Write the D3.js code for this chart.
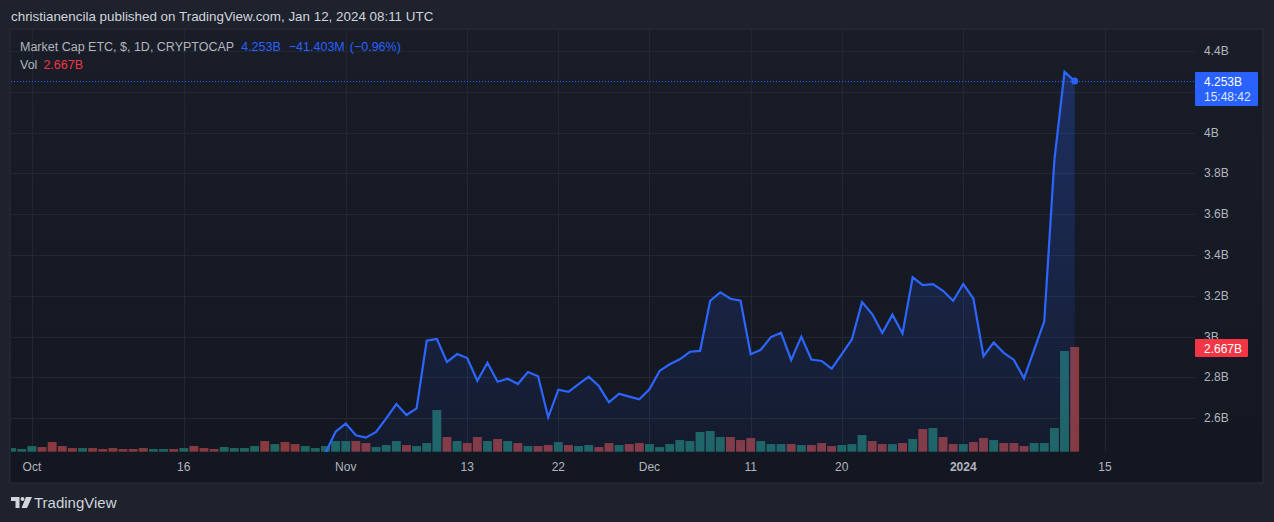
<!DOCTYPE html>
<html>
<head>
<meta charset="utf-8">
<script src="https://cdn.jsdelivr.net/npm/d3@7"></script>
<style>
  html, body { margin: 0; padding: 0; background: #1e222d; }
  svg { display: block; font-family: "Liberation Sans", Arial, sans-serif; }
</style>
</head>
<body>
<svg id="chart" width="1274" height="522"></svg>
<script>
// one bar per day, starting Sep 29 2023, last bar Jan 12 2024
var firstDay = "2023-09-29";

// market cap ETC, billions $ (close)
var marketCap = [
  2.22, 2.23,                                                       // Sep 29-30
  2.26, 2.21, 2.20, 2.21, 2.18, 2.19, 2.19, 2.18, 2.13, 2.12,       // Oct
  2.10, 2.08, 2.09, 2.10, 2.11, 2.17, 2.15, 2.13, 2.14, 2.21,
  2.26, 2.27, 2.35, 2.38, 2.40, 2.36, 2.34, 2.36, 2.38, 2.43, 2.534,
  2.574, 2.517, 2.505, 2.533, 2.600, 2.670, 2.616, 2.649, 2.980, 2.989, // Nov
  2.876, 2.915, 2.895, 2.784, 2.872, 2.779, 2.794, 2.768, 2.827, 2.806,
  2.605, 2.740, 2.730, 2.768, 2.804, 2.758, 2.678, 2.721, 2.706, 2.693,
  2.742, 2.832, 2.865, 2.889, 2.926, 2.930, 3.176, 3.217, 3.186, 3.176, // Dec
  2.914, 2.936, 2.998, 3.019, 2.886, 3.000, 2.888, 2.881, 2.843, 2.915,
  2.987, 3.170, 3.111, 3.018, 3.108, 3.016, 3.291, 3.253, 3.258, 3.225, 3.176,
  3.258, 3.186, 2.904, 2.972, 2.921, 2.886, 2.796, 2.935, 3.075, 3.866, // Jan
  4.298, 4.253
];

// volume, billions $
var volume = [
  0.093, 0.068,
  0.144, 0.119, 0.246, 0.144, 0.093, 0.093, 0.093, 0.068, 0.093, 0.068,
  0.068, 0.093, 0.068, 0.068, 0.068, 0.093, 0.144, 0.093, 0.068, 0.119,
  0.093, 0.093, 0.144, 0.272, 0.195, 0.246, 0.195, 0.144, 0.093, 0.144, 0.272,
  0.272, 0.272, 0.221, 0.119, 0.170, 0.272, 0.170, 0.144, 0.221, 1.061,
  0.374, 0.272, 0.221, 0.374, 0.272, 0.323, 0.272, 0.221, 0.144, 0.144,
  0.170, 0.246, 0.170, 0.144, 0.170, 0.119, 0.221, 0.170, 0.195, 0.221,
  0.195, 0.119, 0.195, 0.297, 0.272, 0.501, 0.526, 0.374, 0.374, 0.297,
  0.348, 0.272, 0.195, 0.195, 0.195, 0.170, 0.170, 0.221, 0.144, 0.170,
  0.195, 0.425, 0.272, 0.195, 0.195, 0.221, 0.323, 0.577, 0.603, 0.374, 0.195,
  0.195, 0.246, 0.348, 0.297, 0.221, 0.221, 0.144, 0.221, 0.221, 0.603,
  2.565, 2.667
];

// 1 = up bar (green), 0 = down bar (red)
var volumeUp = [
  1, 1,
  1, 0, 0, 0, 0, 1, 0, 0, 0, 0,
  0, 0, 1, 1, 0, 1, 0, 0, 0, 1,
  1, 1, 1, 0, 1, 0, 0, 1, 1, 1, 1,
  1, 0, 0, 1, 1, 1, 0, 1, 1, 1,
  0, 1, 0, 0, 1, 0, 1, 0, 1, 0,
  0, 1, 0, 1, 1, 0, 0, 1, 0, 0,
  1, 1, 1, 1, 1, 1, 1, 1, 0, 0,
  0, 1, 1, 1, 0, 1, 0, 0, 0, 1,
  1, 1, 0, 0, 1, 0, 1, 0, 1, 0, 0,
  1, 0, 0, 1, 0, 0, 0, 1, 1, 1,
  1, 0
];

var priceTicks = [2.6, 2.8, 3, 3.2, 3.4, 3.6, 3.8, 4, 4.2, 4.4];
var priceTickLabels = ["2.6B", "2.8B", "3B", "3.2B", "3.4B", "3.6B", "3.8B", "4B", "", "4.4B"];

var timeTicks = ["2023-10-01", "2023-10-16", "2023-11-01", "2023-11-13", "2023-11-22",
                 "2023-12-01", "2023-12-11", "2023-12-20", "2024-01-01", "2024-01-15"];
var timeTickLabels = ["Oct", "16", "Nov", "13", "22", "Dec", "11", "20", "2024", "15"];

var svg = d3.select("#chart");

// frame of the chart
var frame = { left: 10, top: 29, right: 1263, bottom: 483 };
var plot = { left: 11, top: 30, right: 1195, bottom: 452 };

var defs = svg.append("defs");

var bg = defs.append("linearGradient").attr("id", "bg")
  .attr("x1", 0).attr("y1", 0).attr("x2", 0).attr("y2", 1);
bg.append("stop").attr("offset", "0%").attr("stop-color", "#191d28");
bg.append("stop").attr("offset", "100%").attr("stop-color", "#131722");

var area = defs.append("linearGradient").attr("id", "areaFill")
  .attr("gradientUnits", "userSpaceOnUse")
  .attr("x1", 0).attr("y1", 51).attr("x2", 0).attr("y2", plot.bottom);
area.append("stop").attr("offset", "0%").attr("stop-color", "#2962ff").attr("stop-opacity", 0.28);
area.append("stop").attr("offset", "100%").attr("stop-color", "#2962ff").attr("stop-opacity", 0.05);

defs.append("clipPath").attr("id", "plotClip")
  .append("rect")
  .attr("x", plot.left).attr("y", plot.top)
  .attr("width", plot.right - plot.left).attr("height", plot.bottom - plot.top);

svg.append("rect")
  .attr("x", frame.left).attr("y", frame.top)
  .attr("width", frame.right - frame.left).attr("height", frame.bottom - frame.top)
  .attr("fill", "url(#bg)")
  .attr("stroke", "#2a2e39");

// scales
var start = new Date(firstDay + "T00:00:00Z");
var days = marketCap.map(function(d, i) { return d3.utcDay.offset(start, i); });

var x = d3.scaleUtc()
  .domain([new Date("2023-09-28T22:28:00Z"), new Date("2024-01-23T21:20:00Z")])
  .range([plot.left, plot.right]);

var y = d3.scaleLinear().domain([2.6, 4.4]).range([418.3, 51]);

// volume overlay uses its own scale at the bottom of the pane
var yVol = d3.scaleLinear().domain([0, 2.667]).range([451.7, 347]);

var step = x(days[1]) - x(days[0]);
var barW = step * 0.88;

// grid
var grid = svg.append("g").attr("stroke", "#232733").attr("stroke-width", 1);
grid.selectAll(".h").data(priceTicks).join("line")
  .attr("x1", plot.left).attr("x2", plot.right)
  .attr("y1", function(d) { return Math.round(y(d)) + 0.5; })
  .attr("y2", function(d) { return Math.round(y(d)) + 0.5; });
grid.selectAll(".v").data(timeTicks).join("line")
  .attr("x1", function(d) { return Math.round(x(new Date(d + "T00:00:00Z"))) + 0.5; })
  .attr("x2", function(d) { return Math.round(x(new Date(d + "T00:00:00Z"))) + 0.5; })
  .attr("y1", plot.top).attr("y2", plot.bottom);

var pane = svg.append("g").attr("clip-path", "url(#plotClip)");

// volume bars
pane.append("g").selectAll("rect").data(volume).join("rect")
  .attr("x", function(d, i) { return x(days[i]) - barW / 2; })
  .attr("y", function(d) { return yVol(d); })
  .attr("width", barW)
  .attr("height", function(d) { return yVol(0) - yVol(d); })
  .attr("fill", function(d, i) { return volumeUp[i] ? "#1f6560" : "#883a3f"; });

// area + line
var pts = marketCap.map(function(v, i) { return [x(days[i]), y(v)]; });

pane.append("path")
  .datum(pts)
  .attr("fill", "url(#areaFill)")
  .attr("d", d3.area().x(function(p) { return p[0]; }).y0(plot.bottom).y1(function(p) { return p[1]; }));

pane.append("path")
  .datum(pts)
  .attr("fill", "none")
  .attr("stroke", "#2d66ff")
  .attr("stroke-width", 2.2)
  .attr("stroke-linejoin", "miter")
  .attr("d", d3.line());

// last price dotted line and marker
var last = marketCap[marketCap.length - 1];
svg.append("line")
  .attr("x1", plot.left).attr("x2", plot.right)
  .attr("y1", y(last) + 0.5).attr("y2", y(last) + 0.5)
  .attr("stroke", "#2962ff").attr("stroke-width", 1)
  .attr("stroke-dasharray", "1,2");

svg.append("circle")
  .attr("cx", x(days[days.length - 1])).attr("cy", y(last))
  .attr("r", 3.5).attr("fill", "#2962ff");

// price axis labels (3B sits partly under the volume label, as in TradingView)
svg.append("g").selectAll("text").data(priceTicks).join("text")
  .attr("x", 1204).attr("y", function(d) { return y(d) + 4; })
  .attr("fill", "#b2b5be").attr("font-size", 12)
  .text(function(d, i) { return priceTickLabels[i]; });

// time axis labels
svg.append("g").selectAll("text").data(timeTicks).join("text")
  .attr("x", function(d) { return x(new Date(d + "T00:00:00Z")); })
  .attr("y", 471)
  .attr("text-anchor", "middle")
  .attr("fill", "#b2b5be").attr("font-size", 12)
  .attr("font-weight", function(d, i) { return timeTickLabels[i] === "2024" ? "bold" : null; })
  .text(function(d, i) { return timeTickLabels[i]; });

// price label boxes
var blue = svg.append("g");
blue.append("rect").attr("x", 1195).attr("y", 72).attr("width", 63).attr("height", 34)
  .attr("rx", 1).attr("fill", "#2962ff");
blue.append("text").attr("x", 1204).attr("y", 86).attr("fill", "#fff").attr("font-size", 12)
  .text(d3.format(".3f")(last) + "B");
blue.append("text").attr("x", 1204).attr("y", 101).attr("fill", "#dfe6ff").attr("font-size", 12)
  .text("15:48:42");

var lastVol = volume[volume.length - 1];
var red = svg.append("g");
red.append("rect").attr("x", 1195).attr("y", 339).attr("width", 53).attr("height", 18)
  .attr("rx", 1).attr("fill", "#f23645");
red.append("text").attr("x", 1204).attr("y", 352.5).attr("fill", "#fff").attr("font-size", 12)
  .text(d3.format(".3f")(lastVol) + "B");

// legend
var lg = svg.append("text").attr("x", 20).attr("y", 51).attr("font-size", 12.5).attr("fill", "#b2b5be");
lg.append("tspan").text("Market Cap ETC, $, 1D, CRYPTOCAP");
lg.append("tspan").attr("dx", 7).attr("fill", "#2962ff").text(d3.format(".3f")(last) + "B");
lg.append("tspan").attr("dx", 8).attr("fill", "#2962ff").text("\u221241.403M");
lg.append("tspan").attr("dx", 5).attr("fill", "#2962ff").text("(\u22120.96%)");

var lv = svg.append("text").attr("x", 20).attr("y", 69).attr("font-size", 12.5).attr("fill", "#b2b5be");
lv.append("tspan").text("Vol");
lv.append("tspan").attr("dx", 6).attr("fill", "#f23645").text(d3.format(".3f")(lastVol) + "B");

// header
svg.append("text").attr("x", 11).attr("y", 21).attr("font-size", 13.4).attr("fill", "#d1d4dc")
  .text("christianencila published on TradingView.com, Jan 12, 2024 08:11 UTC");

// footer logo
var logo = svg.append("g").attr("transform", "translate(11,497)").attr("fill", "#d1d4dc");
logo.append("path").attr("d", "M0 0 H8.5 V11 H4.5 V4 H0 Z");
logo.append("circle").attr("cx", 11.5).attr("cy", 2).attr("r", 2);
logo.append("path").attr("d", "M15 0 H21 L16 11 H10.5 Z");
svg.append("text").attr("x", 34).attr("y", 508).attr("font-size", 15).attr("fill", "#d1d4dc")
  .text("TradingView");
</script>
</body>
</html>
